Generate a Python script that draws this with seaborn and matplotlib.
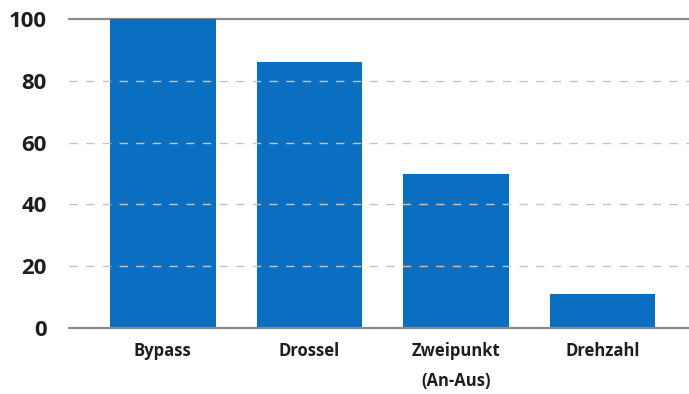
import matplotlib
matplotlib.use("Agg")
import matplotlib.pyplot as plt
import seaborn as sns
import pandas as pd

categories = ["Bypass", "Drossel", "Zweipunkt\n(An-Aus)", "Drehzahl"]
values = [100, 86, 50, 11]
y_ticks = [0, 20, 40, 60, 80, 100]

sns.set_theme(style="white")
plt.rcParams["font.family"] = ["Open Sans", "DejaVu Sans"]

df = pd.DataFrame({"kategorie": categories, "wert": values})

fig = plt.figure(figsize=(6.89, 3.94), dpi=100)
ax = fig.add_axes([69 / 689, 1 - 328 / 394, 1 - 69 / 689, (328 - 19) / 394])

sns.barplot(data=df, x="kategorie", y="wert", color="#0a6fc1", saturation=1,
            width=0.72, linewidth=0, ax=ax, zorder=2)

ax.set_xlim(-0.64, 3.59)
ax.set_ylim(0, 100)
ax.set_yticks(y_ticks)
ax.set_yticklabels([str(t) for t in y_ticks], fontsize=16, fontweight="bold", color="#1e1e1e")
ax.set_xlabel("")
ax.set_ylabel("")
for lbl in ax.get_xticklabels():
    lbl.set_fontsize(12)
    lbl.set_fontweight("bold")
    lbl.set_color("#1e1e1e")
    lbl.set_linespacing(1.85)

ax.tick_params(axis="y", length=0, pad=16)
ax.tick_params(axis="x", length=0, pad=10)

for s in ax.spines.values():
    s.set_visible(False)

# dashed guides across the bars, solid lines at the bounds
for t in y_ticks[1:-1]:
    ax.axhline(t, color="#c4c4c4", lw=1.0, ls=(0, (6, 6)), zorder=3)
ax.axhline(0, color="#8a8a8a", lw=1.6, zorder=4, clip_on=False)
ax.axhline(100, color="#8a8a8a", lw=1.6, zorder=1, clip_on=False)

fig.savefig("out.png", dpi=100)
